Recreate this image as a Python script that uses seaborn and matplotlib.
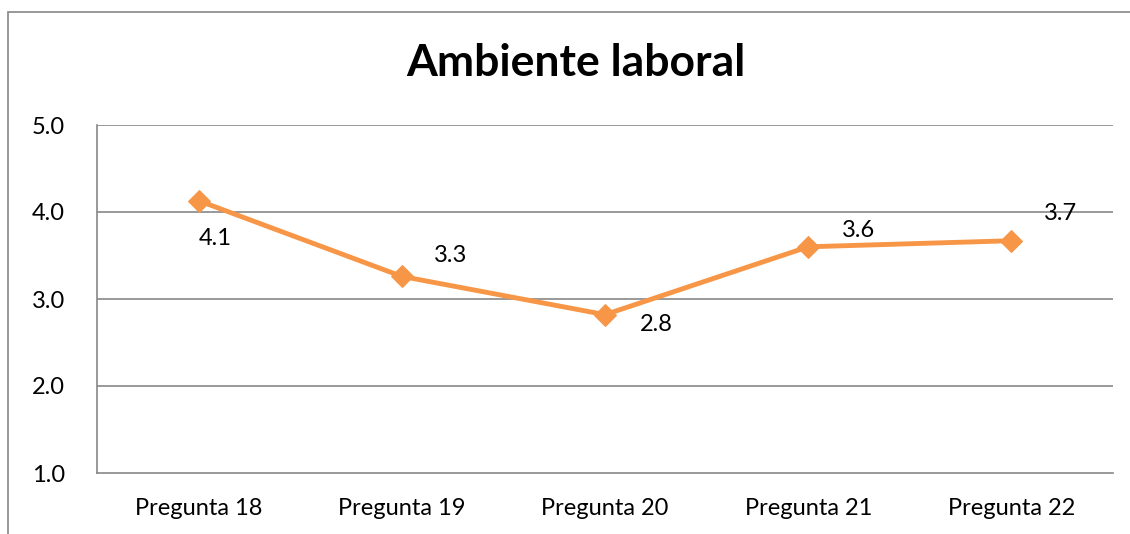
import matplotlib
matplotlib.use("Agg")
import matplotlib.pyplot as plt
import seaborn as sns
import pandas as pd
from matplotlib.patches import Rectangle

categories = ["Pregunta 18", "Pregunta 19", "Pregunta 20", "Pregunta 21", "Pregunta 22"]
values = [4.13, 3.26, 2.82, 3.60, 3.67]
value_labels = ["4.1", "3.3", "2.8", "3.6", "3.7"]
y_ticks = [1.0, 2.0, 3.0, 4.0, 5.0]
title = "Ambiente laboral"

# label offsets in pixels (style)
label_offsets = [(17, -38), (49, 21), (51, -10), (50, 16), (49, 27)]

sns.set_theme(style="white")
plt.rcParams['font.family'] = ['Lato', 'DejaVu Sans']

df = pd.DataFrame({"cat": categories, "val": values})

fig = plt.figure(figsize=(11.3, 5.34), dpi=100)
ax = fig.add_axes([97/1130, 1-473/534, (1113-97)/1130, (473-125)/534])

orange = "#F79646"
grid_c = "#878787"
fs = 17

sns.lineplot(data=df, x="cat", y="val", ax=ax, color=orange, linewidth=3.5,
             marker="D", markersize=11.5, markeredgecolor=orange, markerfacecolor=orange, sort=False)

ax.set_xlim(-0.5, len(categories) - 0.5)
ax.set_ylim(1, 5)
ax.set_yticks(y_ticks)
ax.set_yticklabels([f"{t:.1f}" for t in y_ticks], fontsize=fs)
ax.set_xticks(range(len(categories)))
ax.set_xticklabels(categories, fontsize=fs)
ax.set_xlabel("")
ax.set_ylabel("")
ax.tick_params(axis="both", length=0, colors="black")
ax.tick_params(axis="y", pad=23)
ax.tick_params(axis="x", pad=18)
for y in y_ticks[1:]:
    ax.axhline(y, color=grid_c, linewidth=1.2, zorder=0)
for s in ["top", "right"]:
    ax.spines[s].set_visible(False)
for s in ["left", "bottom"]:
    ax.spines[s].set_color(grid_c)
    ax.spines[s].set_linewidth(1.2)

for i, (v, lab) in enumerate(zip(values, value_labels)):
    dx, dy = label_offsets[i]
    ax.annotate(lab, (i, v), xytext=(dx, dy), textcoords="offset pixels",
                ha="center", va="center", fontsize=fs, color="black")

fig.text(576/1130, 1-63/534, title, ha="center", va="center", fontsize=32,
         fontweight="bold", color="black")

fig.patches.append(Rectangle((8/1130, -0.1), 1.2, 1-12/534+0.1, transform=fig.transFigure,
                             fill=False, edgecolor=grid_c, linewidth=1.2))

fig.savefig("out.png", dpi=100)
